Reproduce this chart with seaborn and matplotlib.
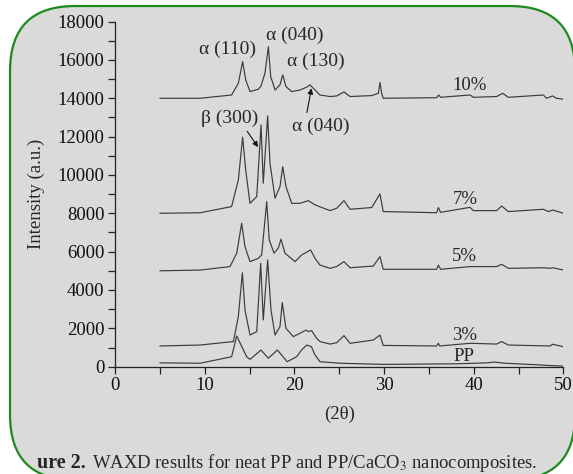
import pandas as pd
import matplotlib.pyplot as plt
import seaborn as sns
from matplotlib.patches import FancyBboxPatch
from matplotlib.ticker import MultipleLocator

# WAXD patterns (2theta in degrees, intensity in a.u.)
pp_x = [5, 9.5, 13.0, 13.57, 14.68, 15.05, 16.28, 17.1, 18.1, 19.2, 20.25, 20.8, 21.37, 21.9,
        22.3, 22.85, 25.1, 30, 38, 41.5, 42.3, 43.5, 47, 48.5, 50]
pp_y = [200, 180, 520, 1600, 520, 380, 870, 440, 870, 260, 520, 870, 1130, 1040,
        610, 260, 180, 120, 150, 200, 240, 180, 100, 60, 30]

p3_x = [5, 9.5, 13.2, 13.75, 14.2, 14.49, 15.05, 15.8, 16.24, 16.53, 17.02, 17.39, 17.84, 18.39,
        18.65, 19.06, 19.88, 20.62, 21.29, 21.55, 21.92, 22.48, 22.85, 23.97, 24.71, 25.53, 26.2,
        28.8, 29.54, 29.9, 35.86, 36.05, 36.2, 39.58, 42.55, 43.1, 43.85, 48.5, 48.8, 50]
p3_y = [1080, 1130, 1310, 2610, 4900, 2960, 1650, 1830, 5390, 2440, 5570, 2960, 1650, 2090,
        3340, 2000, 1570, 1740, 1910, 1830, 1880, 1480, 1310, 1180, 1250, 1620, 1220,
        1390, 1650, 1110, 1080, 1220, 1080, 1220, 1180, 1310, 1130, 1080, 1170, 1040]

p5_x = [5, 9.5, 12.82, 13.57, 14.12, 14.49, 15.05, 15.98, 16.35, 16.72, 16.91, 17.2, 17.73, 18.2,
        18.5, 18.95, 20.07, 20.81, 21.29, 21.81, 22.3, 22.85, 23.97, 24.71, 25.53, 26.2,
        28.8, 29.54, 29.9, 35.86, 36.05, 36.3, 39.58, 42.55, 43.1, 43.85, 47.75, 48.5, 48.8, 50]
p5_y = [5000, 5040, 5220, 5920, 7480, 6260, 5480, 5650, 5830, 7650, 8610, 6610, 5920, 6180,
        6650, 5920, 5480, 5830, 5950, 6090, 5650, 5300, 5130, 5220, 5480, 5160,
        5250, 5740, 5080, 5080, 5300, 5080, 5220, 5220, 5340, 5130, 5160, 5130, 5160, 5040]

p7_x = [5, 9.5, 13.0, 13.75, 14.23, 14.57, 15.05, 15.8, 16.28, 16.53, 17.02, 17.28, 17.84, 18.39,
        18.7, 19.06, 19.7, 20.62, 21.55, 22.3, 23.97, 24.71, 25.53, 26.2, 28.62, 29.54, 29.9,
        35.86, 36.05, 36.3, 39.58, 39.95, 42.55, 43.1, 43.85, 47.75, 48.3, 48.8, 50]
p7_y = [8000, 8030, 8350, 9740, 11970, 10260, 8520, 8870, 12610, 9570, 13080, 10610, 8790, 9390,
        10430, 9390, 8520, 8520, 8660, 8440, 8140, 8260, 8660, 8210, 8300, 9010, 8090,
        8030, 8300, 8050, 8310, 8140, 8140, 8380, 8090, 8210, 8090, 8170, 8000]

p10_x = [5, 9.5, 13.0, 13.75, 14.23, 14.57, 15.05, 15.98, 16.28, 16.72, 17.1, 17.36, 17.84, 18.39,
         18.7, 19.06, 19.7, 20.62, 21.37, 21.74, 22.3, 22.85, 23.97, 24.71, 25.53, 26.2, 28.62,
         29.36, 29.54, 29.73, 29.9, 35.86, 36.1, 36.3, 39.58, 39.95, 42.55, 43.22, 43.85, 47.75,
         48.1, 48.8, 49.2, 50]
p10_y = [14000, 14000, 14170, 14780, 15910, 14960, 14350, 14470, 14640, 15310, 16690, 15130, 14430, 14700,
         15220, 14610, 14350, 14430, 14580, 14700, 14430, 14170, 14090, 14120, 14330, 14090, 14140,
         14260, 14820, 14260, 14000, 14030, 14170, 14050, 14170, 14050, 14090, 14260, 14050, 14170,
         14000, 14120, 14000, 13950]

samples = ['PP', '3%', '5%', '7%', '10%']
xs = [pp_x, p3_x, p5_x, p7_x, p10_x]
ys = [pp_y, p3_y, p5_y, p7_y, p10_y]

frames = []
for name, x, y in zip(samples, xs, ys):
    frames.append(pd.DataFrame({'two_theta': x, 'intensity': y, 'sample': name}))
df = pd.concat(frames, ignore_index=True)

# label positions next to each pattern
label_x = [38.9, 39.0, 39.0, 39.0, 39.5]
label_y = [520, 1620, 5740, 8700, 14690]

sns.set_style('ticks')
plt.rcParams['font.family'] = ['Liberation Serif', 'DejaVu Serif']
plt.rcParams['mathtext.fontset'] = 'stix'

fig = plt.figure(figsize=(5.73, 4.74), dpi=100)
fig.patch.set_facecolor('white')

# rounded green frame with grey fill
frame = FancyBboxPatch((0.0175, -0.0127), 0.986, 1.0,
                       boxstyle='round,pad=0,rounding_size=0.1134',
                       mutation_aspect=573 / 474,
                       transform=fig.transFigure, facecolor='#dadada',
                       edgecolor='#1c8a1c', linewidth=1.6, zorder=-5)
fig.patches.append(frame)

ax = fig.add_axes([0.2007, 0.2264, 0.7827, 0.7281])
ax.set_facecolor('none')

sns.lineplot(data=df, x='two_theta', y='intensity', hue='sample',
             palette=['#3a3a3a'] * 5, legend=False, sort=False,
             estimator=None, linewidth=0.85, ax=ax)

ax.set_xlim(0, 50)
ax.set_ylim(0, 18000)
ax.xaxis.set_major_locator(MultipleLocator(10))
ax.xaxis.set_minor_locator(MultipleLocator(5))
ax.yaxis.set_major_locator(MultipleLocator(2000))
ax.yaxis.set_minor_locator(MultipleLocator(1000))
ax.tick_params(which='both', direction='out', length=5, width=0.9, color='#222222',
               labelsize=13.5, labelcolor='#111111', pad=2.5)
sns.despine(ax=ax)
for s in ['left', 'bottom']:
    ax.spines[s].set_linewidth(0.9)
    ax.spines[s].set_color('#222222')

ax.set_xlabel('(2θ)', fontsize=13.5, labelpad=8)
ax.set_ylabel('Intensity (a.u.)', fontsize=13.5, labelpad=9)

for name, lx, ly in zip(samples, label_x, label_y):
    ax.text(lx, ly, name, fontsize=13.5, ha='center', va='center')

# peak assignments
ax.text(12.5, 16560, 'α (110)', fontsize=14, ha='center', va='center')
ax.text(20.0, 17300, 'α (040)', fontsize=14, ha='center', va='center')
ax.text(22.4, 15910, 'α (130)', fontsize=14, ha='center', va='center')
ax.annotate('β (300)', xy=(15.95, 11450), xytext=(12.8, 12960), fontsize=14,
            ha='center', va='center',
            arrowprops=dict(arrowstyle='-|>', color='#111111', lw=0.8,
                            mutation_scale=8, relpos=(0.75, 0), shrinkA=1, shrinkB=0))
ax.annotate('α (040)', xy=(21.9, 14520), xytext=(22.9, 12560), fontsize=14,
            ha='center', va='center',
            arrowprops=dict(arrowstyle='-|>', color='#111111', lw=0.8,
                            mutation_scale=8, relpos=(0.25, 1), shrinkA=1, shrinkB=0))

fig.text(0.0646, 0.0232, 'ure 2.', fontsize=14.5, fontweight='bold', ha='left', va='center')
fig.text(0.160, 0.0232, 'WAXD results for neat PP and PP/CaCO$_3$ nanocomposites.',
         fontsize=13.4, ha='left', va='center')

fig.savefig('out.png', dpi=100)
